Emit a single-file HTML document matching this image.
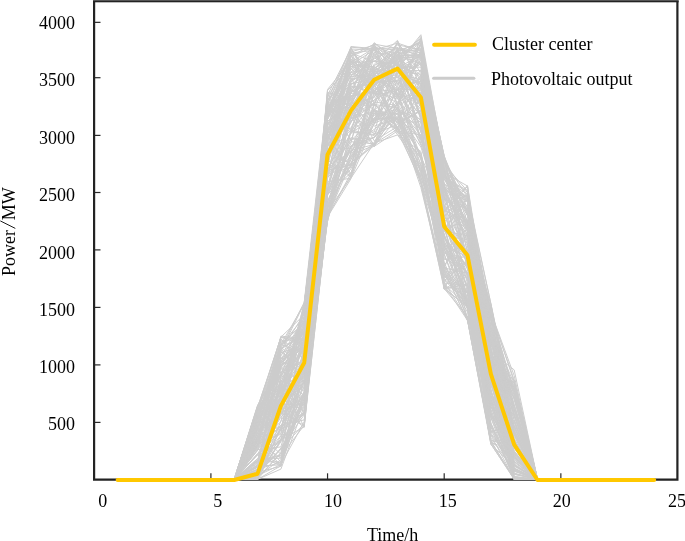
<!DOCTYPE html>
<html><head><meta charset="utf-8"><style>
html,body{margin:0;padding:0;background:#fff;width:685px;height:541px;overflow:hidden}
svg{display:block;will-change:transform}
text{font-family:"Liberation Serif",serif;font-size:18px;fill:#000}
</style></head><body>
<svg width="685" height="541" viewBox="0 0 685 541">

<g stroke="#2a2a2a" stroke-width="1.2"><line x1="94.25" y1="422.40" x2="100.5" y2="422.40"/><line x1="94.25" y1="364.90" x2="100.5" y2="364.90"/><line x1="94.25" y1="307.40" x2="100.5" y2="307.40"/><line x1="94.25" y1="249.90" x2="100.5" y2="249.90"/><line x1="94.25" y1="192.50" x2="100.5" y2="192.50"/><line x1="94.25" y1="135.40" x2="100.5" y2="135.40"/><line x1="94.25" y1="77.70" x2="100.5" y2="77.70"/><line x1="94.25" y1="22.35" x2="100.5" y2="22.35"/><line x1="210.90" y1="479" x2="210.90" y2="473.3"/><line x1="327.55" y1="479" x2="327.55" y2="473.3"/><line x1="444.20" y1="479" x2="444.20" y2="473.3"/><line x1="560.85" y1="479" x2="560.85" y2="473.3"/></g>
<g fill="none" stroke="#232323" stroke-width="2.2"><path d="M94.1 0.5 V479.6 H677.4 V0.5"/></g><rect x="93" y="0" width="585.6" height="1" fill="#555"/><rect x="93" y="1" width="585.6" height="1.3" fill="#232323"/>
<g fill="none" stroke="#cccccc" stroke-width="1" stroke-linejoin="round">
<polyline points="234.2,479.3 257.6,476.0 280.9,411.8 304.2,425.5 327.5,174.8 350.9,150.5 374.2,144.5 397.5,103.8 420.9,180.6 444.2,253.8 467.5,319.9 490.9,444.5 514.2,466.3 537.5,479.3"/>
<polyline points="234.2,479.3 257.6,440.2 280.9,389.5 304.2,310.0 327.5,113.0 350.9,59.8 374.2,67.7 397.5,59.9 420.9,116.6 444.2,170.0 467.5,232.3 490.9,367.5 514.2,440.6 537.5,479.3"/>
<polyline points="234.2,479.3 257.6,437.6 280.9,466.2 304.2,380.4 327.5,165.9 350.9,151.9 374.2,110.4 397.5,131.2 420.9,181.0 444.2,280.7 467.5,260.5 490.9,409.2 514.2,473.5 537.5,479.3"/>
<polyline points="234.2,479.3 257.6,438.6 280.9,414.5 304.2,323.6 327.5,122.4 350.9,128.3 374.2,78.3 397.5,77.6 420.9,52.0 444.2,186.0 467.5,265.6 490.9,306.4 514.2,465.0 537.5,479.3"/>
<polyline points="234.2,479.3 257.6,432.9 280.9,454.2 304.2,375.9 327.5,215.4 350.9,105.1 374.2,80.0 397.5,89.9 420.9,77.6 444.2,254.0 467.5,243.8 490.9,374.4 514.2,445.1 537.5,479.3"/>
<polyline points="234.2,479.3 257.6,425.2 280.9,360.8 304.2,372.6 327.5,143.4 350.9,165.6 374.2,81.3 397.5,80.6 420.9,57.4 444.2,193.5 467.5,283.7 490.9,392.8 514.2,432.0 537.5,479.3"/>
<polyline points="234.2,479.3 257.6,478.7 280.9,439.8 304.2,391.8 327.5,177.8 350.9,147.7 374.2,118.2 397.5,118.1 420.9,177.8 444.2,247.1 467.5,279.7 490.9,442.4 514.2,478.0 537.5,479.3"/>
<polyline points="234.2,479.3 257.6,415.3 280.9,358.9 304.2,338.2 327.5,112.9 350.9,75.8 374.2,60.7 397.5,63.9 420.9,95.1 444.2,205.7 467.5,230.8 490.9,349.2 514.2,391.2 537.5,479.3"/>
<polyline points="234.2,479.3 257.6,449.6 280.9,446.9 304.2,361.3 327.5,157.2 350.9,93.0 374.2,45.4 397.5,64.7 420.9,95.5 444.2,197.7 467.5,222.5 490.9,411.8 514.2,385.1 537.5,479.3"/>
<polyline points="234.2,479.3 257.6,410.9 280.9,337.2 304.2,339.8 327.5,128.5 350.9,117.3 374.2,52.3 397.5,94.3 420.9,121.2 444.2,216.2 467.5,252.7 490.9,351.8 514.2,451.7 537.5,479.3"/>
<polyline points="234.2,479.3 257.6,458.6 280.9,429.3 304.2,414.0 327.5,171.3 350.9,139.3 374.2,137.9 397.5,108.4 420.9,157.4 444.2,274.0 467.5,307.8 490.9,401.9 514.2,465.0 537.5,479.3"/>
<polyline points="234.2,479.3 257.6,407.5 280.9,337.4 304.2,343.8 327.5,131.7 350.9,62.7 374.2,61.2 397.5,64.5 420.9,77.0 444.2,207.4 467.5,234.0 490.9,304.3 514.2,415.8 537.5,479.3"/>
<polyline points="234.2,479.3 257.6,467.1 280.9,395.0 304.2,310.3 327.5,110.5 350.9,85.2 374.2,109.8 397.5,93.7 420.9,145.3 444.2,187.1 467.5,244.5 490.9,335.4 514.2,453.3 537.5,479.3"/>
<polyline points="234.2,479.3 257.6,444.2 280.9,388.7 304.2,363.7 327.5,159.4 350.9,115.2 374.2,103.1 397.5,134.7 420.9,151.4 444.2,276.0 467.5,301.5 490.9,422.9 514.2,478.5 537.5,479.3"/>
<polyline points="234.2,479.3 257.6,479.3 280.9,386.8 304.2,400.3 327.5,140.6 350.9,92.0 374.2,80.7 397.5,120.8 420.9,182.3 444.2,285.1 467.5,320.4 490.9,441.8 514.2,458.0 537.5,479.3"/>
<polyline points="234.2,479.3 257.6,417.8 280.9,350.8 304.2,303.8 327.5,107.0 350.9,103.0 374.2,43.3 397.5,61.8 420.9,53.8 444.2,168.2 467.5,201.5 490.9,353.1 514.2,391.7 537.5,479.3"/>
<polyline points="234.2,479.3 257.6,436.7 280.9,375.0 304.2,396.2 327.5,188.1 350.9,86.6 374.2,92.6 397.5,128.6 420.9,182.5 444.2,283.4 467.5,232.6 490.9,362.4 514.2,478.4 537.5,479.3"/>
<polyline points="234.2,479.3 257.6,420.6 280.9,341.3 304.2,338.1 327.5,106.2 350.9,108.0 374.2,100.6 397.5,59.5 420.9,42.7 444.2,175.3 467.5,209.2 490.9,334.4 514.2,390.5 537.5,479.3"/>
<polyline points="234.2,479.3 257.6,435.1 280.9,386.4 304.2,344.0 327.5,139.3 350.9,58.9 374.2,79.6 397.5,62.8 420.9,106.3 444.2,175.5 467.5,225.3 490.9,331.7 514.2,387.7 537.5,479.3"/>
<polyline points="234.2,479.3 257.6,416.8 280.9,367.8 304.2,312.9 327.5,97.6 350.9,55.1 374.2,91.9 397.5,53.8 420.9,88.0 444.2,221.6 467.5,205.1 490.9,353.2 514.2,389.3 537.5,479.3"/>
<polyline points="234.2,479.3 257.6,422.0 280.9,392.2 304.2,333.9 327.5,119.1 350.9,51.2 374.2,103.6 397.5,61.7 420.9,107.4 444.2,216.2 467.5,193.2 490.9,340.5 514.2,406.4 537.5,479.3"/>
<polyline points="234.2,479.3 257.6,411.7 280.9,374.3 304.2,320.0 327.5,119.7 350.9,75.8 374.2,49.4 397.5,66.6 420.9,67.2 444.2,189.6 467.5,201.0 490.9,313.6 514.2,380.1 537.5,479.3"/>
<polyline points="234.2,479.3 257.6,423.6 280.9,336.1 304.2,338.6 327.5,116.9 350.9,91.7 374.2,78.9 397.5,50.1 420.9,95.7 444.2,190.6 467.5,240.2 490.9,313.2 514.2,479.3 537.5,479.3"/>
<polyline points="234.2,479.3 257.6,479.3 280.9,344.4 304.2,304.1 327.5,140.2 350.9,72.2 374.2,69.3 397.5,71.3 420.9,74.2 444.2,179.6 467.5,200.9 490.9,343.4 514.2,396.7 537.5,479.3"/>
<polyline points="234.2,479.3 257.6,471.4 280.9,449.4 304.2,423.7 327.5,211.1 350.9,177.5 374.2,111.2 397.5,113.9 420.9,156.3 444.2,275.1 467.5,291.9 490.9,441.2 514.2,479.3 537.5,479.3"/>
<polyline points="234.2,479.3 257.6,467.1 280.9,348.5 304.2,333.5 327.5,103.0 350.9,153.2 374.2,112.8 397.5,121.4 420.9,75.0 444.2,245.9 467.5,293.0 490.9,380.7 514.2,479.3 537.5,479.3"/>
<polyline points="234.2,479.3 257.6,432.8 280.9,398.8 304.2,320.5 327.5,104.9 350.9,47.6 374.2,95.0 397.5,91.0 420.9,39.1 444.2,187.3 467.5,257.2 490.9,326.3 514.2,479.3 537.5,479.3"/>
<polyline points="234.2,479.3 257.6,444.5 280.9,346.7 304.2,370.1 327.5,100.5 350.9,76.5 374.2,75.4 397.5,55.0 420.9,56.4 444.2,206.8 467.5,253.3 490.9,327.3 514.2,431.8 537.5,479.3"/>
<polyline points="234.2,479.3 257.6,467.3 280.9,438.8 304.2,411.5 327.5,216.5 350.9,173.4 374.2,113.6 397.5,129.5 420.9,170.9 444.2,270.5 467.5,320.9 490.9,405.5 514.2,477.0 537.5,479.3"/>
<polyline points="234.2,479.3 257.6,479.3 280.9,465.8 304.2,398.3 327.5,221.4 350.9,130.7 374.2,115.5 397.5,109.4 420.9,181.7 444.2,289.1 467.5,283.8 490.9,435.0 514.2,479.1 537.5,479.3"/>
<polyline points="234.2,479.3 257.6,410.5 280.9,395.5 304.2,306.8 327.5,107.9 350.9,72.2 374.2,82.0 397.5,81.4 420.9,137.0 444.2,237.3 467.5,275.4 490.9,319.1 514.2,444.0 537.5,479.3"/>
<polyline points="234.2,479.3 257.6,466.7 280.9,413.0 304.2,369.5 327.5,181.9 350.9,178.2 374.2,143.1 397.5,134.9 420.9,167.7 444.2,275.6 467.5,306.2 490.9,441.3 514.2,439.2 537.5,479.3"/>
<polyline points="234.2,479.3 257.6,405.7 280.9,366.9 304.2,344.7 327.5,112.3 350.9,63.9 374.2,86.0 397.5,51.8 420.9,41.8 444.2,158.0 467.5,222.0 490.9,305.4 514.2,433.8 537.5,479.3"/>
<polyline points="234.2,479.3 257.6,474.5 280.9,448.0 304.2,414.8 327.5,206.2 350.9,165.2 374.2,142.3 397.5,103.5 420.9,143.7 444.2,227.4 467.5,269.1 490.9,382.5 514.2,435.0 537.5,479.3"/>
<polyline points="234.2,479.3 257.6,460.7 280.9,365.6 304.2,414.0 327.5,145.9 350.9,111.7 374.2,145.0 397.5,72.7 420.9,80.0 444.2,223.8 467.5,243.5 490.9,353.6 514.2,476.5 537.5,479.3"/>
<polyline points="234.2,479.3 257.6,440.1 280.9,363.6 304.2,330.4 327.5,117.0 350.9,100.0 374.2,57.6 397.5,71.5 420.9,83.8 444.2,248.8 467.5,302.2 490.9,412.1 514.2,452.7 537.5,479.3"/>
<polyline points="234.2,479.3 257.6,479.3 280.9,452.5 304.2,401.6 327.5,194.5 350.9,146.0 374.2,137.3 397.5,107.4 420.9,135.1 444.2,249.3 467.5,307.9 490.9,426.0 514.2,468.7 537.5,479.3"/>
<polyline points="234.2,479.3 257.6,460.3 280.9,455.2 304.2,393.0 327.5,205.8 350.9,146.0 374.2,129.4 397.5,110.6 420.9,119.3 444.2,282.3 467.5,318.8 490.9,438.0 514.2,470.1 537.5,479.3"/>
<polyline points="234.2,479.3 257.6,415.3 280.9,351.2 304.2,373.4 327.5,157.1 350.9,102.8 374.2,44.3 397.5,77.2 420.9,61.9 444.2,239.3 467.5,265.6 490.9,361.8 514.2,385.8 537.5,479.3"/>
<polyline points="234.2,479.3 257.6,417.4 280.9,400.7 304.2,338.3 327.5,133.2 350.9,89.9 374.2,106.1 397.5,40.9 420.9,118.5 444.2,164.7 467.5,191.1 490.9,401.2 514.2,422.9 537.5,479.3"/>
<polyline points="234.2,479.3 257.6,419.4 280.9,365.3 304.2,347.3 327.5,143.4 350.9,68.6 374.2,84.4 397.5,51.1 420.9,106.0 444.2,176.4 467.5,210.4 490.9,369.8 514.2,382.6 537.5,479.3"/>
<polyline points="234.2,479.3 257.6,479.3 280.9,380.3 304.2,390.5 327.5,111.4 350.9,112.6 374.2,133.9 397.5,124.5 420.9,110.8 444.2,226.8 467.5,274.6 490.9,413.4 514.2,455.6 537.5,479.3"/>
<polyline points="234.2,479.3 257.6,435.6 280.9,462.1 304.2,362.3 327.5,143.4 350.9,178.1 374.2,77.0 397.5,88.9 420.9,90.0 444.2,270.5 467.5,293.3 490.9,412.1 514.2,479.3 537.5,479.3"/>
<polyline points="234.2,479.3 257.6,443.8 280.9,399.7 304.2,375.9 327.5,191.5 350.9,143.2 374.2,55.6 397.5,95.5 420.9,44.0 444.2,237.7 467.5,267.5 490.9,359.5 514.2,459.7 537.5,479.3"/>
<polyline points="234.2,479.3 257.6,479.3 280.9,379.0 304.2,348.8 327.5,158.1 350.9,84.7 374.2,69.7 397.5,95.9 420.9,103.6 444.2,288.9 467.5,245.9 490.9,397.2 514.2,434.0 537.5,479.3"/>
<polyline points="234.2,479.3 257.6,444.1 280.9,434.2 304.2,302.7 327.5,175.7 350.9,95.7 374.2,91.9 397.5,89.3 420.9,59.7 444.2,158.0 467.5,260.5 490.9,335.0 514.2,444.8 537.5,479.3"/>
<polyline points="234.2,479.3 257.6,444.2 280.9,433.1 304.2,391.5 327.5,178.7 350.9,60.7 374.2,88.0 397.5,103.5 420.9,52.5 444.2,160.7 467.5,251.7 490.9,406.5 514.2,462.3 537.5,479.3"/>
<polyline points="234.2,479.3 257.6,476.6 280.9,440.7 304.2,412.9 327.5,208.3 350.9,159.9 374.2,104.6 397.5,107.5 420.9,184.5 444.2,287.7 467.5,307.5 490.9,443.9 514.2,479.3 537.5,479.3"/>
<polyline points="234.2,479.3 257.6,470.7 280.9,413.0 304.2,397.7 327.5,213.3 350.9,157.3 374.2,109.8 397.5,119.4 420.9,169.1 444.2,271.7 467.5,320.2 490.9,442.3 514.2,451.4 537.5,479.3"/>
<polyline points="234.2,479.3 257.6,415.9 280.9,408.8 304.2,367.6 327.5,90.4 350.9,67.1 374.2,58.8 397.5,47.9 420.9,118.9 444.2,186.9 467.5,211.5 490.9,317.7 514.2,391.9 537.5,479.3"/>
<polyline points="234.2,479.3 257.6,422.0 280.9,382.0 304.2,339.5 327.5,89.5 350.9,60.7 374.2,75.2 397.5,54.4 420.9,48.3 444.2,179.6 467.5,193.9 490.9,304.0 514.2,430.3 537.5,479.3"/>
<polyline points="234.2,479.3 257.6,437.1 280.9,351.1 304.2,313.8 327.5,138.4 350.9,114.3 374.2,84.9 397.5,50.5 420.9,43.5 444.2,226.4 467.5,262.5 490.9,330.4 514.2,394.9 537.5,479.3"/>
<polyline points="234.2,479.3 257.6,466.9 280.9,408.4 304.2,427.4 327.5,191.3 350.9,131.6 374.2,66.5 397.5,87.3 420.9,81.2 444.2,240.5 467.5,298.5 490.9,418.4 514.2,409.0 537.5,479.3"/>
<polyline points="234.2,479.3 257.6,438.4 280.9,428.8 304.2,338.6 327.5,109.1 350.9,93.3 374.2,92.8 397.5,55.5 420.9,41.3 444.2,224.5 467.5,277.1 490.9,362.8 514.2,425.4 537.5,479.3"/>
<polyline points="234.2,479.3 257.6,446.5 280.9,345.7 304.2,316.9 327.5,130.2 350.9,119.4 374.2,46.5 397.5,84.6 420.9,43.9 444.2,227.0 467.5,259.6 490.9,317.6 514.2,440.9 537.5,479.3"/>
<polyline points="234.2,479.3 257.6,408.8 280.9,376.1 304.2,335.1 327.5,103.5 350.9,56.1 374.2,73.6 397.5,71.6 420.9,54.9 444.2,192.3 467.5,230.9 490.9,349.9 514.2,431.7 537.5,479.3"/>
<polyline points="234.2,479.3 257.6,477.4 280.9,421.0 304.2,381.3 327.5,189.1 350.9,117.9 374.2,104.1 397.5,127.8 420.9,158.4 444.2,235.0 467.5,287.3 490.9,400.1 514.2,479.3 537.5,479.3"/>
<polyline points="234.2,479.3 257.6,458.7 280.9,439.7 304.2,413.4 327.5,219.5 350.9,152.4 374.2,119.8 397.5,64.6 420.9,175.8 444.2,188.6 467.5,302.8 490.9,407.3 514.2,426.1 537.5,479.3"/>
<polyline points="234.2,479.3 257.6,422.2 280.9,409.5 304.2,326.2 327.5,125.7 350.9,66.0 374.2,85.7 397.5,67.4 420.9,55.9 444.2,229.9 467.5,219.6 490.9,312.3 514.2,375.7 537.5,479.3"/>
<polyline points="234.2,479.3 257.6,454.7 280.9,430.6 304.2,380.0 327.5,201.4 350.9,147.5 374.2,109.0 397.5,126.7 420.9,166.0 444.2,235.3 467.5,304.2 490.9,423.6 514.2,470.0 537.5,479.3"/>
<polyline points="234.2,479.3 257.6,469.1 280.9,462.4 304.2,361.7 327.5,135.1 350.9,122.5 374.2,75.6 397.5,129.0 420.9,171.8 444.2,250.3 467.5,229.1 490.9,347.9 514.2,469.2 537.5,479.3"/>
<polyline points="234.2,479.3 257.6,464.8 280.9,439.4 304.2,352.5 327.5,221.7 350.9,113.2 374.2,100.2 397.5,86.8 420.9,115.8 444.2,244.8 467.5,307.1 490.9,429.7 514.2,474.5 537.5,479.3"/>
<polyline points="234.2,479.3 257.6,446.2 280.9,398.5 304.2,302.9 327.5,144.4 350.9,121.1 374.2,103.7 397.5,56.9 420.9,89.2 444.2,177.2 467.5,197.6 490.9,326.7 514.2,431.6 537.5,479.3"/>
<polyline points="234.2,479.3 257.6,461.6 280.9,462.1 304.2,395.9 327.5,216.4 350.9,162.4 374.2,145.8 397.5,118.0 420.9,153.5 444.2,252.2 467.5,273.0 490.9,414.2 514.2,469.6 537.5,479.3"/>
<polyline points="234.2,479.3 257.6,429.1 280.9,349.3 304.2,334.0 327.5,92.4 350.9,98.7 374.2,79.0 397.5,74.6 420.9,101.4 444.2,174.7 467.5,198.7 490.9,344.7 514.2,408.9 537.5,479.3"/>
<polyline points="234.2,479.3 257.6,405.1 280.9,365.6 304.2,331.3 327.5,103.6 350.9,96.7 374.2,75.2 397.5,42.8 420.9,72.4 444.2,190.6 467.5,229.9 490.9,355.7 514.2,398.2 537.5,479.3"/>
<polyline points="234.2,479.3 257.6,469.7 280.9,404.4 304.2,404.3 327.5,160.0 350.9,177.4 374.2,103.4 397.5,127.7 420.9,176.5 444.2,244.2 467.5,257.4 490.9,417.0 514.2,471.2 537.5,479.3"/>
<polyline points="234.2,479.3 257.6,450.0 280.9,402.0 304.2,385.6 327.5,170.8 350.9,122.5 374.2,72.5 397.5,64.8 420.9,129.1 444.2,259.5 467.5,256.5 490.9,336.0 514.2,457.1 537.5,479.3"/>
<polyline points="234.2,479.3 257.6,473.7 280.9,397.4 304.2,383.3 327.5,217.0 350.9,178.8 374.2,123.1 397.5,101.7 420.9,122.8 444.2,288.6 467.5,316.7 490.9,378.0 514.2,468.1 537.5,479.3"/>
<polyline points="234.2,479.3 257.6,469.7 280.9,383.9 304.2,410.9 327.5,177.0 350.9,156.9 374.2,124.4 397.5,80.6 420.9,83.4 444.2,266.9 467.5,317.0 490.9,378.4 514.2,478.5 537.5,479.3"/>
<polyline points="234.2,479.3 257.6,455.0 280.9,465.9 304.2,394.6 327.5,212.8 350.9,137.6 374.2,145.0 397.5,110.0 420.9,129.1 444.2,284.2 467.5,306.4 490.9,397.3 514.2,461.3 537.5,479.3"/>
<polyline points="234.2,479.3 257.6,440.7 280.9,386.6 304.2,384.8 327.5,162.0 350.9,93.5 374.2,44.2 397.5,105.8 420.9,93.5 444.2,172.8 467.5,186.0 490.9,390.7 514.2,461.3 537.5,479.3"/>
<polyline points="234.2,479.3 257.6,429.0 280.9,344.5 304.2,353.5 327.5,126.2 350.9,64.6 374.2,68.8 397.5,43.9 420.9,65.5 444.2,199.3 467.5,209.0 490.9,342.0 514.2,392.0 537.5,479.3"/>
<polyline points="234.2,479.3 257.6,413.1 280.9,391.2 304.2,349.0 327.5,119.5 350.9,63.6 374.2,66.7 397.5,83.4 420.9,89.0 444.2,158.1 467.5,208.0 490.9,376.5 514.2,387.2 537.5,479.3"/>
<polyline points="234.2,479.3 257.6,450.5 280.9,338.5 304.2,370.5 327.5,110.0 350.9,72.1 374.2,55.3 397.5,77.9 420.9,81.4 444.2,178.6 467.5,226.9 490.9,318.6 514.2,415.1 537.5,479.3"/>
<polyline points="234.2,479.3 257.6,475.1 280.9,399.5 304.2,373.3 327.5,191.7 350.9,92.1 374.2,76.5 397.5,96.7 420.9,159.8 444.2,233.9 467.5,305.6 490.9,424.8 514.2,479.3 537.5,479.3"/>
<polyline points="234.2,479.3 257.6,475.9 280.9,459.7 304.2,392.9 327.5,195.1 350.9,147.0 374.2,117.7 397.5,105.3 420.9,172.2 444.2,254.6 467.5,309.6 490.9,444.1 514.2,479.3 537.5,479.3"/>
<polyline points="234.2,479.3 257.6,447.9 280.9,399.5 304.2,387.0 327.5,170.1 350.9,165.0 374.2,91.6 397.5,122.8 420.9,110.9 444.2,226.8 467.5,304.6 490.9,392.6 514.2,445.3 537.5,479.3"/>
<polyline points="234.2,479.3 257.6,475.3 280.9,436.0 304.2,401.5 327.5,170.8 350.9,164.3 374.2,113.5 397.5,114.3 420.9,177.4 444.2,236.0 467.5,299.6 490.9,427.2 514.2,477.7 537.5,479.3"/>
<polyline points="234.2,479.3 257.6,475.5 280.9,464.6 304.2,421.7 327.5,132.6 350.9,117.3 374.2,79.4 397.5,130.0 420.9,103.9 444.2,289.1 467.5,275.5 490.9,383.8 514.2,470.5 537.5,479.3"/>
<polyline points="234.2,479.3 257.6,411.1 280.9,343.4 304.2,323.6 327.5,147.5 350.9,80.8 374.2,42.7 397.5,60.3 420.9,51.5 444.2,197.4 467.5,221.8 490.9,311.4 514.2,408.4 537.5,479.3"/>
<polyline points="234.2,479.3 257.6,425.9 280.9,403.3 304.2,306.1 327.5,168.1 350.9,47.5 374.2,86.7 397.5,52.0 420.9,57.8 444.2,177.2 467.5,199.7 490.9,357.1 514.2,457.3 537.5,479.3"/>
<polyline points="234.2,479.3 257.6,461.0 280.9,456.0 304.2,425.3 327.5,216.1 350.9,132.4 374.2,119.7 397.5,117.6 420.9,163.8 444.2,243.2 467.5,272.7 490.9,433.2 514.2,464.9 537.5,479.3"/>
<polyline points="234.2,479.3 257.6,469.1 280.9,414.7 304.2,373.5 327.5,205.9 350.9,118.1 374.2,111.5 397.5,128.9 420.9,79.5 444.2,269.9 467.5,312.1 490.9,440.2 514.2,446.8 537.5,479.3"/>
<polyline points="234.2,479.3 257.6,412.2 280.9,363.4 304.2,341.2 327.5,157.7 350.9,46.5 374.2,48.7 397.5,63.8 420.9,36.4 444.2,178.2 467.5,215.7 490.9,310.4 514.2,421.4 537.5,479.3"/>
<polyline points="234.2,479.3 257.6,479.3 280.9,344.5 304.2,322.7 327.5,129.2 350.9,105.5 374.2,53.8 397.5,86.4 420.9,43.0 444.2,189.4 467.5,237.9 490.9,350.2 514.2,479.3 537.5,479.3"/>
<polyline points="234.2,479.3 257.6,433.2 280.9,368.3 304.2,396.5 327.5,174.6 350.9,132.9 374.2,132.0 397.5,57.4 420.9,75.3 444.2,198.2 467.5,307.3 490.9,333.1 514.2,416.8 537.5,479.3"/>
<polyline points="234.2,479.3 257.6,430.3 280.9,414.2 304.2,396.6 327.5,202.0 350.9,145.8 374.2,137.3 397.5,103.4 420.9,85.8 444.2,206.1 467.5,220.9 490.9,354.3 514.2,465.1 537.5,479.3"/>
<polyline points="234.2,479.3 257.6,441.9 280.9,364.6 304.2,355.2 327.5,173.0 350.9,89.7 374.2,48.2 397.5,104.0 420.9,56.3 444.2,268.0 467.5,273.0 490.9,396.0 514.2,410.2 537.5,479.3"/>
<polyline points="234.2,479.3 257.6,415.5 280.9,361.6 304.2,332.5 327.5,114.0 350.9,80.4 374.2,69.3 397.5,44.9 420.9,49.6 444.2,165.0 467.5,230.4 490.9,313.5 514.2,405.0 537.5,479.3"/>
<polyline points="234.2,479.3 257.6,406.2 280.9,383.6 304.2,316.5 327.5,121.1 350.9,106.3 374.2,97.5 397.5,59.6 420.9,132.6 444.2,158.1 467.5,265.9 490.9,399.4 514.2,455.7 537.5,479.3"/>
<polyline points="234.2,479.3 257.6,419.5 280.9,384.3 304.2,357.8 327.5,146.8 350.9,56.0 374.2,44.1 397.5,48.4 420.9,52.6 444.2,211.5 467.5,185.6 490.9,327.8 514.2,399.9 537.5,479.3"/>
<polyline points="234.2,479.3 257.6,414.8 280.9,408.0 304.2,315.4 327.5,108.4 350.9,68.4 374.2,93.4 397.5,79.7 420.9,109.7 444.2,229.8 467.5,198.8 490.9,311.9 514.2,382.1 537.5,479.3"/>
<polyline points="234.2,479.3 257.6,410.2 280.9,382.6 304.2,363.7 327.5,154.7 350.9,48.9 374.2,84.4 397.5,70.5 420.9,70.6 444.2,230.5 467.5,236.1 490.9,351.9 514.2,369.9 537.5,479.3"/>
<polyline points="234.2,479.3 257.6,462.6 280.9,370.9 304.2,380.8 327.5,135.2 350.9,117.3 374.2,146.9 397.5,106.8 420.9,139.1 444.2,210.8 467.5,289.0 490.9,369.0 514.2,454.1 537.5,479.3"/>
<polyline points="234.2,479.3 257.6,441.7 280.9,458.2 304.2,367.9 327.5,215.7 350.9,155.1 374.2,145.3 397.5,94.6 420.9,95.9 444.2,266.1 467.5,293.9 490.9,415.0 514.2,448.3 537.5,479.3"/>
<polyline points="234.2,479.3 257.6,465.9 280.9,464.9 304.2,370.7 327.5,221.1 350.9,106.9 374.2,146.4 397.5,131.0 420.9,135.0 444.2,265.7 467.5,305.1 490.9,403.0 514.2,474.0 537.5,479.3"/>
<polyline points="234.2,479.3 257.6,409.0 280.9,337.1 304.2,314.8 327.5,132.1 350.9,84.0 374.2,72.1 397.5,49.7 420.9,117.7 444.2,168.0 467.5,266.6 490.9,366.0 514.2,431.0 537.5,479.3"/>
<polyline points="234.2,479.3 257.6,412.2 280.9,361.8 304.2,327.4 327.5,130.0 350.9,62.3 374.2,48.1 397.5,50.1 420.9,50.4 444.2,157.0 467.5,215.6 490.9,336.0 514.2,427.5 537.5,479.3"/>
<polyline points="234.2,479.3 257.6,407.0 280.9,339.7 304.2,354.4 327.5,115.8 350.9,53.1 374.2,50.3 397.5,83.5 420.9,63.2 444.2,175.1 467.5,235.7 490.9,359.8 514.2,419.5 537.5,479.3"/>
<polyline points="234.2,479.3 257.6,406.6 280.9,414.3 304.2,373.5 327.5,155.0 350.9,103.5 374.2,70.2 397.5,94.1 420.9,101.0 444.2,228.8 467.5,196.8 490.9,318.3 514.2,455.5 537.5,479.3"/>
<polyline points="234.2,479.3 257.6,431.5 280.9,352.7 304.2,345.3 327.5,114.8 350.9,64.9 374.2,49.8 397.5,66.8 420.9,45.6 444.2,202.5 467.5,222.8 490.9,320.2 514.2,432.2 537.5,479.3"/>
<polyline points="234.2,479.3 257.6,432.3 280.9,396.6 304.2,377.1 327.5,154.5 350.9,129.8 374.2,135.6 397.5,89.4 420.9,138.2 444.2,210.1 467.5,223.1 490.9,396.0 514.2,447.8 537.5,479.3"/>
<polyline points="234.2,479.3 257.6,428.3 280.9,399.7 304.2,310.2 327.5,95.3 350.9,49.0 374.2,50.0 397.5,43.1 420.9,50.9 444.2,173.3 467.5,224.9 490.9,359.3 514.2,479.3 537.5,479.3"/>
<polyline points="234.2,479.3 257.6,476.8 280.9,428.6 304.2,393.8 327.5,195.0 350.9,165.9 374.2,143.7 397.5,129.2 420.9,157.8 444.2,287.2 467.5,290.0 490.9,381.8 514.2,473.7 537.5,479.3"/>
<polyline points="234.2,479.3 257.6,479.3 280.9,395.0 304.2,345.8 327.5,92.8 350.9,141.2 374.2,73.6 397.5,98.7 420.9,52.9 444.2,155.5 467.5,230.7 490.9,397.1 514.2,415.2 537.5,479.3"/>
<polyline points="234.2,479.3 257.6,426.2 280.9,397.1 304.2,345.0 327.5,114.4 350.9,104.4 374.2,97.2 397.5,49.7 420.9,140.3 444.2,196.9 467.5,260.2 490.9,337.6 514.2,468.2 537.5,479.3"/>
<polyline points="234.2,479.3 257.6,414.7 280.9,386.1 304.2,325.8 327.5,101.0 350.9,99.4 374.2,48.9 397.5,47.7 420.9,56.4 444.2,172.8 467.5,213.3 490.9,335.8 514.2,399.0 537.5,479.3"/>
<polyline points="234.2,479.3 257.6,407.8 280.9,374.2 304.2,323.9 327.5,107.8 350.9,84.0 374.2,78.5 397.5,55.5 420.9,63.2 444.2,161.0 467.5,197.0 490.9,303.5 514.2,414.3 537.5,479.3"/>
<polyline points="234.2,479.3 257.6,416.4 280.9,345.1 304.2,328.7 327.5,117.2 350.9,53.1 374.2,61.8 397.5,40.4 420.9,86.0 444.2,186.0 467.5,206.3 490.9,337.0 514.2,405.9 537.5,479.3"/>
<polyline points="234.2,479.3 257.6,466.0 280.9,429.5 304.2,412.0 327.5,219.1 350.9,105.0 374.2,126.1 397.5,118.8 420.9,154.4 444.2,241.7 467.5,278.9 490.9,375.5 514.2,442.7 537.5,479.3"/>
<polyline points="234.2,479.3 257.6,479.3 280.9,383.8 304.2,426.8 327.5,138.4 350.9,87.0 374.2,84.3 397.5,128.0 420.9,91.6 444.2,226.8 467.5,319.1 490.9,440.9 514.2,479.3 537.5,479.3"/>
<polyline points="234.2,479.3 257.6,445.4 280.9,426.7 304.2,380.9 327.5,162.8 350.9,61.4 374.2,90.4 397.5,99.2 420.9,37.7 444.2,169.6 467.5,269.1 490.9,306.5 514.2,411.1 537.5,479.3"/>
<polyline points="234.2,479.3 257.6,411.2 280.9,348.0 304.2,302.4 327.5,95.2 350.9,107.0 374.2,47.1 397.5,58.6 420.9,38.3 444.2,191.0 467.5,197.4 490.9,327.0 514.2,431.7 537.5,479.3"/>
<polyline points="234.2,479.3 257.6,475.3 280.9,441.8 304.2,412.7 327.5,194.2 350.9,172.9 374.2,123.3 397.5,113.0 420.9,147.0 444.2,219.3 467.5,300.6 490.9,372.6 514.2,470.4 537.5,479.3"/>
<polyline points="234.2,479.3 257.6,427.7 280.9,357.6 304.2,369.1 327.5,155.4 350.9,54.1 374.2,123.7 397.5,71.3 420.9,84.8 444.2,265.4 467.5,233.4 490.9,343.7 514.2,385.3 537.5,479.3"/>
<polyline points="234.2,479.3 257.6,479.3 280.9,426.5 304.2,387.5 327.5,135.2 350.9,174.0 374.2,93.4 397.5,94.2 420.9,156.9 444.2,206.3 467.5,292.0 490.9,400.7 514.2,458.8 537.5,479.3"/>
<polyline points="234.2,479.3 257.6,439.2 280.9,373.7 304.2,337.9 327.5,113.1 350.9,49.1 374.2,82.7 397.5,43.3 420.9,81.4 444.2,185.4 467.5,242.0 490.9,334.1 514.2,394.8 537.5,479.3"/>
<polyline points="234.2,479.3 257.6,413.3 280.9,401.4 304.2,363.3 327.5,155.9 350.9,82.0 374.2,65.7 397.5,51.4 420.9,143.8 444.2,177.3 467.5,190.5 490.9,346.2 514.2,463.8 537.5,479.3"/>
<polyline points="234.2,479.3 257.6,472.3 280.9,466.3 304.2,346.9 327.5,170.2 350.9,122.1 374.2,90.5 397.5,75.5 420.9,128.0 444.2,237.0 467.5,267.5 490.9,379.6 514.2,456.2 537.5,479.3"/>
<polyline points="234.2,479.3 257.6,445.8 280.9,360.4 304.2,345.7 327.5,102.8 350.9,130.8 374.2,101.9 397.5,105.6 420.9,49.7 444.2,156.2 467.5,212.1 490.9,362.7 514.2,380.0 537.5,479.3"/>
<polyline points="234.2,479.3 257.6,479.3 280.9,391.2 304.2,348.1 327.5,125.2 350.9,93.2 374.2,69.1 397.5,49.7 420.9,55.0 444.2,232.1 467.5,207.3 490.9,385.2 514.2,445.2 537.5,479.3"/>
<polyline points="234.2,479.3 257.6,414.6 280.9,354.8 304.2,330.4 327.5,165.6 350.9,82.5 374.2,52.7 397.5,55.4 420.9,64.4 444.2,183.0 467.5,221.1 490.9,374.7 514.2,382.2 537.5,479.3"/>
<polyline points="234.2,479.3 257.6,474.4 280.9,449.2 304.2,404.5 327.5,173.9 350.9,167.5 374.2,84.8 397.5,124.0 420.9,109.9 444.2,279.1 467.5,298.8 490.9,389.6 514.2,479.3 537.5,479.3"/>
<polyline points="234.2,479.3 257.6,443.4 280.9,421.7 304.2,306.9 327.5,101.0 350.9,47.2 374.2,49.1 397.5,97.0 420.9,59.5 444.2,168.0 467.5,226.3 490.9,313.4 514.2,438.7 537.5,479.3"/>
<polyline points="234.2,479.3 257.6,415.2 280.9,393.9 304.2,354.7 327.5,99.6 350.9,74.2 374.2,80.2 397.5,57.9 420.9,57.1 444.2,195.8 467.5,220.1 490.9,308.7 514.2,429.2 537.5,479.3"/>
<polyline points="234.2,479.3 257.6,447.5 280.9,429.3 304.2,363.2 327.5,210.8 350.9,98.0 374.2,119.9 397.5,89.2 420.9,115.5 444.2,249.5 467.5,284.7 490.9,359.7 514.2,413.9 537.5,479.3"/>
<polyline points="234.2,479.3 257.6,417.0 280.9,387.6 304.2,372.9 327.5,110.1 350.9,51.9 374.2,45.2 397.5,73.4 420.9,54.5 444.2,177.2 467.5,192.2 490.9,321.3 514.2,426.7 537.5,479.3"/>
<polyline points="234.2,479.3 257.6,424.4 280.9,427.7 304.2,354.7 327.5,153.8 350.9,79.1 374.2,75.2 397.5,110.9 420.9,183.1 444.2,258.1 467.5,272.3 490.9,373.8 514.2,479.3 537.5,479.3"/>
<polyline points="234.2,479.3 257.6,440.6 280.9,356.0 304.2,318.3 327.5,112.5 350.9,52.2 374.2,71.7 397.5,56.2 420.9,54.9 444.2,159.3 467.5,215.4 490.9,335.7 514.2,436.4 537.5,479.3"/>
<polyline points="234.2,479.3 257.6,420.5 280.9,430.0 304.2,332.2 327.5,101.7 350.9,133.7 374.2,79.0 397.5,69.1 420.9,107.1 444.2,247.2 467.5,273.6 490.9,337.1 514.2,404.5 537.5,479.3"/>
<polyline points="234.2,479.3 257.6,479.3 280.9,375.6 304.2,341.9 327.5,189.1 350.9,109.1 374.2,64.1 397.5,62.2 420.9,114.6 444.2,230.6 467.5,249.8 490.9,414.8 514.2,470.0 537.5,479.3"/>
<polyline points="234.2,479.3 257.6,453.9 280.9,463.7 304.2,398.4 327.5,208.3 350.9,153.5 374.2,136.9 397.5,117.7 420.9,99.1 444.2,279.7 467.5,304.2 490.9,404.0 514.2,452.9 537.5,479.3"/>
<polyline points="234.2,479.3 257.6,479.3 280.9,469.1 304.2,406.0 327.5,191.6 350.9,150.4 374.2,88.7 397.5,92.5 420.9,165.5 444.2,262.1 467.5,317.9 490.9,390.7 514.2,476.7 537.5,479.3"/>
<polyline points="234.2,479.3 257.6,416.9 280.9,362.7 304.2,341.2 327.5,121.7 350.9,101.9 374.2,71.7 397.5,69.5 420.9,93.7 444.2,210.7 467.5,186.5 490.9,336.8 514.2,479.3 537.5,479.3"/>
<polyline points="234.2,479.3 257.6,425.4 280.9,390.4 304.2,304.2 327.5,106.3 350.9,92.9 374.2,74.0 397.5,63.6 420.9,34.7 444.2,162.7 467.5,228.3 490.9,313.9 514.2,392.8 537.5,479.3"/>
<polyline points="234.2,479.3 257.6,466.2 280.9,359.5 304.2,321.0 327.5,191.8 350.9,169.0 374.2,120.5 397.5,103.8 420.9,69.6 444.2,185.6 467.5,224.1 490.9,432.7 514.2,420.4 537.5,479.3"/>
<polyline points="234.2,479.3 257.6,417.8 280.9,348.3 304.2,382.9 327.5,165.1 350.9,56.4 374.2,46.8 397.5,54.3 420.9,103.6 444.2,184.1 467.5,197.0 490.9,388.7 514.2,479.3 537.5,479.3"/>
<polyline points="234.2,479.3 257.6,476.1 280.9,440.0 304.2,426.8 327.5,215.6 350.9,175.9 374.2,104.8 397.5,122.5 420.9,121.7 444.2,288.8 467.5,307.0 490.9,359.4 514.2,478.8 537.5,479.3"/>
<polyline points="234.2,479.3 257.6,421.9 280.9,368.7 304.2,345.9 327.5,102.7 350.9,97.2 374.2,70.0 397.5,59.9 420.9,40.1 444.2,168.7 467.5,212.1 490.9,329.6 514.2,383.9 537.5,479.3"/>
<polyline points="234.2,479.3 257.6,453.9 280.9,417.2 304.2,393.1 327.5,115.1 350.9,89.2 374.2,110.7 397.5,47.3 420.9,120.1 444.2,214.7 467.5,274.2 490.9,381.4 514.2,386.6 537.5,479.3"/>
<polyline points="234.2,479.3 257.6,479.3 280.9,428.1 304.2,403.9 327.5,134.1 350.9,176.2 374.2,70.6 397.5,133.2 420.9,88.0 444.2,226.8 467.5,308.4 490.9,399.8 514.2,473.2 537.5,479.3"/>
<polyline points="234.2,479.3 257.6,477.9 280.9,452.9 304.2,345.3 327.5,134.2 350.9,99.0 374.2,140.8 397.5,126.6 420.9,99.6 444.2,277.5 467.5,262.4 490.9,431.8 514.2,425.5 537.5,479.3"/>
<polyline points="234.2,479.3 257.6,459.9 280.9,458.1 304.2,393.3 327.5,170.8 350.9,141.7 374.2,143.7 397.5,112.8 420.9,182.2 444.2,243.6 467.5,293.9 490.9,434.5 514.2,465.5 537.5,479.3"/>
<polyline points="234.2,479.3 257.6,449.8 280.9,425.0 304.2,419.9 327.5,201.1 350.9,159.5 374.2,119.0 397.5,118.4 420.9,187.6 444.2,283.1 467.5,285.6 490.9,395.5 514.2,450.9 537.5,479.3"/>
<polyline points="234.2,479.3 257.6,453.7 280.9,440.9 304.2,330.2 327.5,153.9 350.9,77.1 374.2,123.3 397.5,56.2 420.9,118.6 444.2,174.1 467.5,202.6 490.9,362.5 514.2,471.3 537.5,479.3"/>
<polyline points="234.2,479.3 257.6,479.3 280.9,363.5 304.2,336.0 327.5,133.8 350.9,68.5 374.2,61.3 397.5,74.3 420.9,64.0 444.2,156.4 467.5,252.1 490.9,312.6 514.2,392.0 537.5,479.3"/>
<polyline points="234.2,479.3 257.6,463.5 280.9,378.1 304.2,330.3 327.5,113.9 350.9,129.5 374.2,74.1 397.5,95.2 420.9,77.9 444.2,268.2 467.5,211.0 490.9,319.4 514.2,441.7 537.5,479.3"/>
<polyline points="234.2,479.3 257.6,439.3 280.9,398.1 304.2,411.4 327.5,103.3 350.9,140.3 374.2,119.8 397.5,116.6 420.9,139.6 444.2,186.2 467.5,303.8 490.9,417.8 514.2,421.1 537.5,479.3"/>
<polyline points="234.2,479.3 257.6,465.1 280.9,435.4 304.2,395.3 327.5,193.5 350.9,131.5 374.2,134.5 397.5,88.5 420.9,131.2 444.2,267.7 467.5,308.0 490.9,417.8 514.2,479.3 537.5,479.3"/>
</g>
<polyline fill="none" stroke="#ffc800" stroke-width="4" stroke-linejoin="round" stroke-linecap="round" points="117.6,480.0 140.9,480.0 164.2,480.0 187.6,480.0 210.9,480.0 234.2,480.0 257.6,473.7 280.9,405.9 304.2,362.8 327.5,154.7 350.9,110.6 374.2,79.8 397.5,68.6 420.9,97.5 444.2,226.4 467.5,255.3 490.9,374.2 514.2,444.6 537.5,480.0 560.8,480.0 584.2,480.0 607.5,480.0 630.8,480.0 654.2,480.0"/>
<line x1="434.1" y1="44.7" x2="474.9" y2="44.7" stroke="#ffc800" stroke-width="4" stroke-linecap="round"/>
<line x1="433.6" y1="78.2" x2="473.9" y2="78.2" stroke="#cccccc" stroke-width="3" stroke-linecap="round"/>
<text x="492" y="49.9">Cluster center</text>
<text x="491" y="84.5">Photovoltaic output</text>
<text x="75" y="430.0" text-anchor="end">500</text>
<text x="75" y="372.8" text-anchor="end">1000</text>
<text x="75" y="315.7" text-anchor="end">1500</text>
<text x="75" y="258.5" text-anchor="end">2000</text>
<text x="75" y="201.3" text-anchor="end">2500</text>
<text x="75" y="144.2" text-anchor="end">3000</text>
<text x="75" y="86.0" text-anchor="end">3500</text>
<text x="75" y="28.8" text-anchor="end">4000</text>

<text x="98.2" y="507">0</text><text x="213.2" y="507">5</text><text x="324.0" y="507">10</text><text x="438.8" y="507">15</text><text x="552.7" y="507">20</text><text x="668.1" y="507">25</text>
<text x="367" y="541.4">Time/h</text>
<text transform="translate(14.6,276.0) rotate(-90)" x="0" y="0">Power</text>
<line x1="15.3" y1="228.4" x2="0.3" y2="220.9" stroke="#000" stroke-width="0.9"/>
<text transform="translate(14.6,220.2) rotate(-90)" x="0" y="0">MW</text>
</svg>
</body></html>
